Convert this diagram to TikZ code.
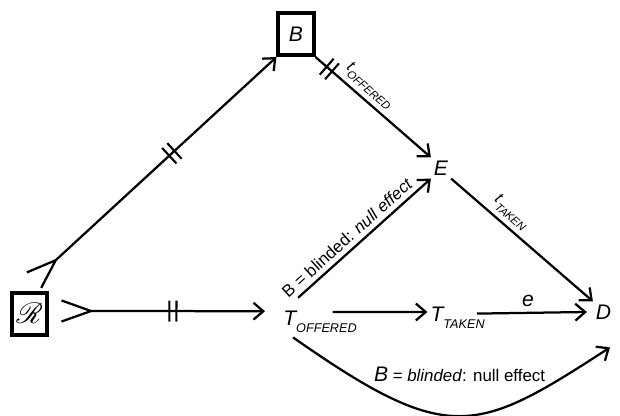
\documentclass[tikz,border=0pt]{standalone}
\usepackage{fontspec}
\usepackage{mathrsfs}
\setmainfont{Liberation Sans}
\usetikzlibrary{arrows.meta,decorations.markings,positioning}

\newcommand{\bigsub}[1]{\raisebox{-5.5pt}{\small\itshape #1}}
\newcommand{\smallsub}[1]{\raisebox{-4pt}{\footnotesize\itshape #1}}

\begin{document}
\begin{tikzpicture}
    \tikzstyle{varnode} = [font=\fontsize{15}{18}\selectfont\itshape, inner sep=2pt,
               text height=10.7pt, text depth=0pt]
    \tikzstyle{boxnode} = [varnode, draw, line width=2.8pt, minimum width=25pt,
               minimum height=30pt]
    \tikzstyle{line} = [draw, line width=1.6pt, -{Straight Barb[length=7pt,width=12pt]}]
    \tikzstyle{randline} = [line, {Straight Barb[reversed,length=21pt,width=15pt]}-{Straight Barb[length=7pt,width=12pt]}]
    \tikzset{dbar/.style={postaction={decorate,decoration={markings,
      mark=at position #1 with {\draw[-,line width=1.5pt] (-2.5pt,-7.5pt) -- (-2.5pt,7.5pt)
        (2.5pt,-7.5pt) -- (2.5pt,7.5pt);}}}}}

    \useasboundingbox (0,0) rectangle (15.5,10.4);

    % Define nodes
    \node[boxnode, font=\fontsize{20}{24}\selectfont, text height=13pt] (rand) at (0.74,2.55) {$\mathscr{R}$};
    \node[boxnode] (blind) at (7.4,9.55) {B};
    \node[varnode] (exp) at (11.025,6.2) {E};
    \node[varnode] (toff) at (8.0,2.46) {T\bigsub{OFFERED}};
    \node[varnode] (ttak) at (11.44,2.56) {T\bigsub{TAKEN}};
    \node[varnode] (dis) at (15.09,2.6) {D};

    % Randomisation arrows
    \draw[randline, dbar=0.55] ([xshift=0.28cm,yshift=0.075cm]rand.east) --
    ([xshift=-0.38cm,yshift=0.16cm]toff.west);
    \draw[randline, dbar=0.57] ([xshift=0.09cm,yshift=0.25cm]rand.north) --
    (blind.south west);

    \draw[line, dbar=0.12] (blind.south east) -- (exp.north west)
    node[pos=0.39, above, sloped, font=\fontsize{11.5}{13}\selectfont] {\textit{t}\smallsub{OFFERED}};

    \draw[line] ([xshift=0.445cm,yshift=0.23cm]toff.north west) -- (exp.south west)
    node[pos=0.43, above, sloped, font=\fontsize{12}{14}\selectfont] {B = blinded: \textit{null effect}};

    \draw[line] ([xshift=-0.68cm,yshift=0.14cm]toff.east) -- ([yshift=0.04cm]ttak.west);
    \draw[line] ([xshift=-0.27cm]ttak.east) -- ([xshift=-0.15cm]dis.west)
    node[midway, above, xshift=-0.1cm, font=\fontsize{15}{18}\selectfont] {\textit{e}};

    \draw[line] (exp.south east) -- (dis.north west)
    node[pos=0.36, above, sloped, font=\fontsize{11.5}{13}\selectfont] {\textit{t}\smallsub{TAKEN}};

    % Blinded path
    \draw[line] ([xshift=0.32cm,yshift=-0.23cm]toff.south west) .. controls +(-35:4.75) and +(-147:4.0) ..
    ([xshift=0.16cm,yshift=-0.62cm]dis.south)
    node[pos=0.5, above=0.7cm, font=\fontsize{12}{14}\selectfont] {{\fontsize{15}{18}\selectfont\textit{B}} = \textit{blinded}: null effect};

\end{tikzpicture}
\end{document}
